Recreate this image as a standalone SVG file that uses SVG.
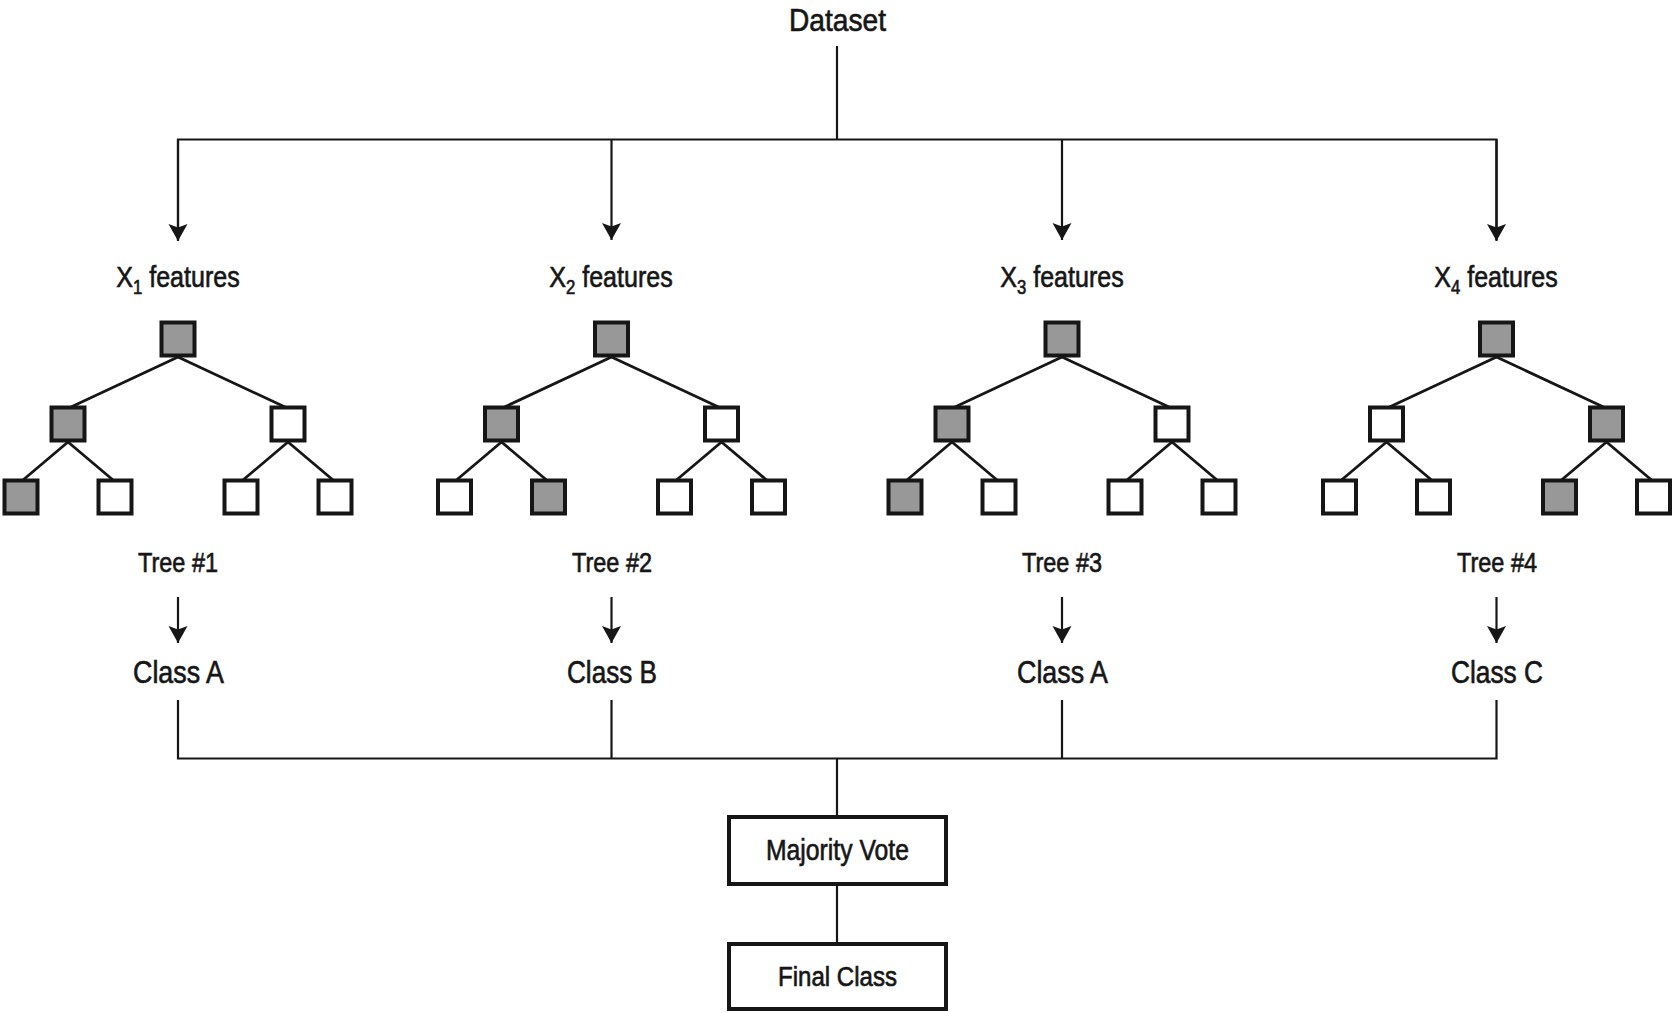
<svg xmlns="http://www.w3.org/2000/svg" width="1675" height="1013" viewBox="0 0 1675 1013">
  <style>
    .lbl { font-family: "Liberation Sans", Arial, sans-serif; fill: #161616; stroke: #161616; stroke-width: 0.65; text-anchor: middle; }
    .wire { fill: none; stroke: #161616; stroke-width: 2.2; }
    .edge { fill: none; stroke: #161616; stroke-width: 2.8; }
    .leaf { fill: #ffffff; stroke: #161616; stroke-width: 4; }
    .hit { fill: #989898; stroke: #161616; stroke-width: 4; }
    .box { fill: #ffffff; stroke: #161616; stroke-width: 4; }
  </style>
  <defs>
    <marker id="arrow" viewBox="0 0 18 20" refX="17" refY="10" markerWidth="18" markerHeight="20" markerUnits="userSpaceOnUse" orient="auto">
      <path d="M17,10 L0,0.5 L3.5,10 L0,19.5 Z" fill="#161616"/>
    </marker>
    <!-- one decision-tree glyph, centred on x = 0 -->
    <g id="edges">
      <path class="edge" d="M0,357 L-107,407 M0,357 L107,407"/>
      <path class="edge" d="M-110,442 L-155,480 M-110,442 L-65,480"/>
      <path class="edge" d="M110,442 L65,480 M110,442 L155,480"/>
    </g>
  </defs>

  <!-- title -->
  <g id="dataset">
    <text class="lbl" x="837.5" y="30.5" font-size="32" textLength="97" lengthAdjust="spacingAndGlyphs">Dataset</text>
  </g>

  <!-- connectors -->
  <g id="connectors">
    <path class="wire" d="M837,46 V139.5"/>
    <path class="wire" d="M178,240 V139.5 H1496.5 V240"/>
    <path class="wire" d="M611.5,139.5 V240" marker-end="url(#arrow)"/>
    <path class="wire" d="M1062,139.5 V240" marker-end="url(#arrow)"/>
    <path class="wire" d="M178,139.5 V241" marker-end="url(#arrow)"/>
    <path class="wire" d="M1496.5,139.5 V241" marker-end="url(#arrow)"/>

    <path class="wire" d="M178,597 V643" marker-end="url(#arrow)"/>
    <path class="wire" d="M611.5,597 V643" marker-end="url(#arrow)"/>
    <path class="wire" d="M1062,597 V643" marker-end="url(#arrow)"/>
    <path class="wire" d="M1496.5,597 V643" marker-end="url(#arrow)"/>

    <path class="wire" d="M178,700 V758.5 H1496.5 V700"/>
    <path class="wire" d="M611.5,700 V758.5"/>
    <path class="wire" d="M1062,700 V758.5"/>
    <path class="wire" d="M837,758.5 V817"/>
    <path class="wire" d="M837,886 V943"/>
  </g>

  <!-- tree 1 -->
  <g id="tree1">
    <text class="lbl" font-size="30" transform="translate(178 287) scale(0.835 1)">X<tspan font-size="20" dy="7">1</tspan><tspan dy="-7"> features</tspan></text>
    <use href="#edges" x="178"/>
    <rect class="hit" x="161.5" y="322.5" width="33" height="33"/>
    <rect class="hit" x="51.5" y="407.5" width="33" height="33"/>
    <rect class="leaf" x="271.5" y="407.5" width="33" height="33"/>
    <rect class="hit" x="4.5" y="480.5" width="33" height="33"/>
    <rect class="leaf" x="98.5" y="480.5" width="33" height="33"/>
    <rect class="leaf" x="224.5" y="480.5" width="33" height="33"/>
    <rect class="leaf" x="318.5" y="480.5" width="33" height="33"/>
    <text class="lbl" x="178" y="571.5" font-size="28" textLength="80" lengthAdjust="spacingAndGlyphs">Tree #1</text>
    <text class="lbl" x="178.5" y="682.5" font-size="32" textLength="91" lengthAdjust="spacingAndGlyphs">Class A</text>
  </g>

  <!-- tree 2 -->
  <g id="tree2">
    <text class="lbl" font-size="30" transform="translate(611 287) scale(0.835 1)">X<tspan font-size="20" dy="7">2</tspan><tspan dy="-7"> features</tspan></text>
    <use href="#edges" x="611.5"/>
    <rect class="hit" x="595" y="322.5" width="33" height="33"/>
    <rect class="hit" x="485" y="407.5" width="33" height="33"/>
    <rect class="leaf" x="705" y="407.5" width="33" height="33"/>
    <rect class="leaf" x="438" y="480.5" width="33" height="33"/>
    <rect class="hit" x="532" y="480.5" width="33" height="33"/>
    <rect class="leaf" x="658" y="480.5" width="33" height="33"/>
    <rect class="leaf" x="752" y="480.5" width="33" height="33"/>
    <text class="lbl" x="612" y="571.5" font-size="28" textLength="80" lengthAdjust="spacingAndGlyphs">Tree #2</text>
    <text class="lbl" x="612" y="682.5" font-size="32" textLength="90" lengthAdjust="spacingAndGlyphs">Class B</text>
  </g>

  <!-- tree 3 -->
  <g id="tree3">
    <text class="lbl" font-size="30" transform="translate(1062 287) scale(0.835 1)">X<tspan font-size="20" dy="7">3</tspan><tspan dy="-7"> features</tspan></text>
    <use href="#edges" x="1062"/>
    <rect class="hit" x="1045.5" y="322.5" width="33" height="33"/>
    <rect class="hit" x="935.5" y="407.5" width="33" height="33"/>
    <rect class="leaf" x="1155.5" y="407.5" width="33" height="33"/>
    <rect class="hit" x="888.5" y="480.5" width="33" height="33"/>
    <rect class="leaf" x="982.5" y="480.5" width="33" height="33"/>
    <rect class="leaf" x="1108.5" y="480.5" width="33" height="33"/>
    <rect class="leaf" x="1202.5" y="480.5" width="33" height="33"/>
    <text class="lbl" x="1062" y="571.5" font-size="28" textLength="80" lengthAdjust="spacingAndGlyphs">Tree #3</text>
    <text class="lbl" x="1062.5" y="682.5" font-size="32" textLength="91" lengthAdjust="spacingAndGlyphs">Class A</text>
  </g>

  <!-- tree 4 -->
  <g id="tree4">
    <text class="lbl" font-size="30" transform="translate(1496 287) scale(0.835 1)">X<tspan font-size="20" dy="7">4</tspan><tspan dy="-7"> features</tspan></text>
    <use href="#edges" x="1496.5"/>
    <rect class="hit" x="1480" y="322.5" width="33" height="33"/>
    <rect class="leaf" x="1370" y="407.5" width="33" height="33"/>
    <rect class="hit" x="1590" y="407.5" width="33" height="33"/>
    <rect class="leaf" x="1323" y="480.5" width="33" height="33"/>
    <rect class="leaf" x="1417" y="480.5" width="33" height="33"/>
    <rect class="hit" x="1543" y="480.5" width="33" height="33"/>
    <rect class="leaf" x="1637" y="480.5" width="33" height="33"/>
    <text class="lbl" x="1497" y="571.5" font-size="28" textLength="80" lengthAdjust="spacingAndGlyphs">Tree #4</text>
    <text class="lbl" x="1497" y="682.5" font-size="32" textLength="92" lengthAdjust="spacingAndGlyphs">Class C</text>
  </g>

  <!-- voting -->
  <g id="majority-vote">
    <rect class="box" x="729" y="817" width="217" height="67"/>
    <text class="lbl" x="837.5" y="859.5" font-size="29" textLength="143" lengthAdjust="spacingAndGlyphs">Majority Vote</text>
  </g>
  <g id="final-class">
    <rect class="box" x="729" y="944" width="217" height="65"/>
    <text class="lbl" x="837.5" y="985.5" font-size="27" textLength="119" lengthAdjust="spacingAndGlyphs">Final Class</text>
  </g>
</svg>
